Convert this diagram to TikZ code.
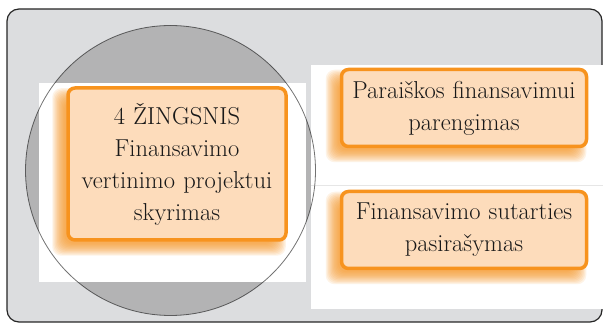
\documentclass[tikz,border=0pt]{standalone}
\usepackage{fontspec}
\usetikzlibrary{calc}

\definecolor{framegrey}{HTML}{DCDDDF}
\definecolor{discgrey}{HTML}{B3B3B4}
\definecolor{boxorange}{HTML}{F7931E}
\definecolor{boxfill}{HTML}{FDDCBB}
\definecolor{rulegrey}{HTML}{E6E6E6}

\pgfdeclarelayer{bg}
\pgfdeclarelayer{glow}
\pgfsetlayers{bg,glow,main}

\tikzset{
  stepcard/.style={draw=boxorange, line width=3.5pt, fill=boxfill,
    rounded corners=7pt, align=center, inner sep=0pt, text=black!90,
    font=\fontsize{24.5}{32}\selectfont},
  bigcard/.style={stepcard, minimum width=218pt, minimum height=152pt, text width=214pt},
  widecard/.style={stepcard, minimum width=245pt, minimum height=77pt, text width=243pt},
}

% soft orange glow behind a card, shifted to the lower left
\newcommand\cardglow[1]{%
  \foreach \e in {6,4.8,...,-6}{%
    \fill[boxorange, opacity=0.11, rounded corners=9pt]
      ($(#1.south west)+(-8-\e,-8-\e)$) rectangle ($(#1.north east)+(-8+\e,-8+\e)$);
  }%
}

\begin{document}
\begin{tikzpicture}[x=1pt,y=1pt]
\useasboundingbox (0,0) rectangle (603,324);

\begin{pgfonlayer}{bg}
  % outer panel
  \draw[fill=framegrey, draw=black!85, line width=1.2pt, rounded corners=12pt]
    (7,2) rectangle (602,315);
  % grey disc
  \fill[discgrey] (170.5,153.5) circle (145);
  % white bands
  \fill[white] (39,42) rectangle (306,241);
  \fill[white] (311,15) rectangle (603,259);
  \draw[rulegrey, line width=0.6pt] (311,139) -- (603,139);
  % disc outline
  \draw[black, draw opacity=0.55, line width=0.8pt] (170.5,153.5) circle (145);
\end{pgfonlayer}

\node[bigcard] (s4) at (177,160)
  {4 ŽINGSNIS\\Finansavimo\\vertinimo projektui\\skyrimas};
\node[widecard] (prep) at (464,216) {Paraiškos finansavimui\\parengimas};
\node[widecard] (sign) at (464,94) {Finansavimo sutarties\\pasirašymas};

\begin{pgfonlayer}{glow}
  \cardglow{s4}
  \cardglow{prep}
  \cardglow{sign}
\end{pgfonlayer}
\end{tikzpicture}
\end{document}
